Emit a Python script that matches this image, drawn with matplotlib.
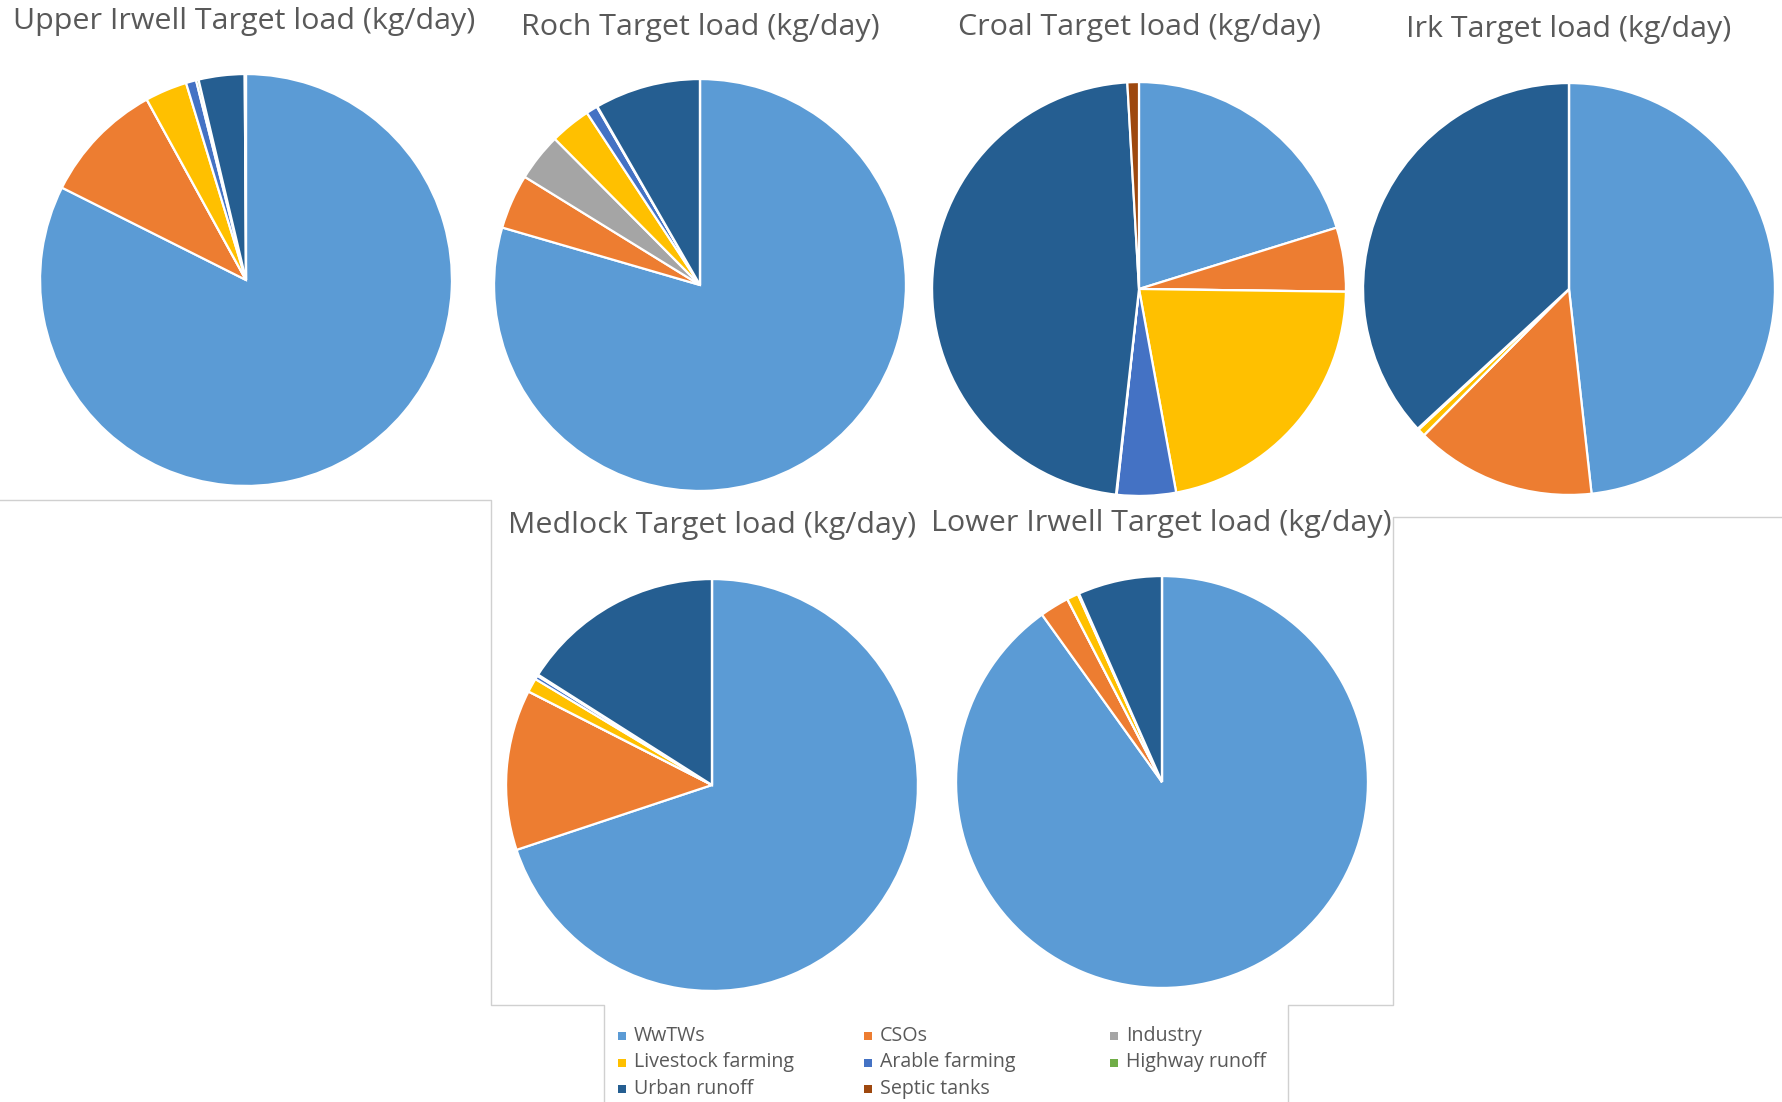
import matplotlib
matplotlib.use("Agg")
import matplotlib.pyplot as plt
from matplotlib.patches import Rectangle
from matplotlib.lines import Line2D

W, H = 1783, 1102

# Sources (same order in every pie, clockwise from 12 o'clock)
sources = ["WwTWs", "CSOs", "Industry", "Livestock farming", "Arable farming",
           "Highway runoff", "Urban runoff", "Septic tanks"]
colors = ["#5B9BD5", "#ED7D31", "#A5A5A5", "#FFC000", "#4472C4",
          "#70AD47", "#255E91", "#9E480E"]

# Share of target load (%)
upper_irwell = [82.4, 9.6, 0.0, 3.3, 0.8, 0.2, 3.6, 0.1]
roch = [79.5, 4.3, 3.75, 3.2, 0.9, 0.05, 8.3, 0.0]
croal = [20.2, 5.0, 0.0, 21.9, 4.6, 0.05, 47.3, 0.9]
irk = [48.3, 14.2, 0.0, 0.6, 0.05, 0.05, 36.9, 0.0]
medlock = [69.9, 12.6, 0.0, 1.1, 0.3, 0.1, 16.0, 0.0]
lower_irwell = [90.1, 2.3, 0.0, 0.9, 0.05, 0.05, 6.6, 0.0]

titles = ["Upper Irwell Target load (kg/day)", "Roch Target load (kg/day)",
          "Croal Target load (kg/day)", "Irk Target load (kg/day)",
          "Medlock Target load (kg/day)", "Lower Irwell Target load (kg/day)"]
series = [upper_irwell, roch, croal, irk, medlock, lower_irwell]

# layout in pixels: pie centre, radius, title position
pies = [(246, 280, 208), (700, 285, 208), (1139, 289, 209),
        (1569, 289, 208), (712, 785, 208), (1162, 782, 208)]
title_pos = [(244, 22), (700, 27), (1139, 27), (1569, 29), (712, 526), (1161, 524)]

fig = plt.figure(figsize=(W / 100, H / 100), dpi=100)
fig.patch.set_facecolor("white")

# light grey frame lines of the pasted chart boxes
frame = [
    [(0, 500), (491, 500), (491, 1005), (604, 1005), (604, 1102)],
    [(1783, 517), (1393, 517), (1393, 1005), (1288, 1005), (1288, 1102)],
]
for pts in frame:
    xs = [p[0] / W for p in pts]
    ys = [1 - p[1] / H for p in pts]
    fig.add_artist(Line2D(xs, ys, color="#d0d0d0", lw=1.0, transform=fig.transFigure))

for vals, title, (cx, cy, r), (tx, ty) in zip(series, titles, pies, title_pos):
    ax = fig.add_axes([(cx - r) / W, 1 - (cy + r) / H, 2 * r / W, 2 * r / H])
    ax.pie(vals, colors=colors, startangle=90, counterclock=False, radius=1,
           wedgeprops=dict(edgecolor="white", linewidth=1.6))
    ax.set_xlim(-1.01, 1.01)
    ax.set_ylim(-1.01, 1.01)
    ax.axis("off")
    fig.text(tx / W, 1 - ty / H, title, ha="center", va="center",
             fontsize=21.9, color="#595959", family="Open Sans")

# legend, 3 columns laid out row by row
for i, (lab, col) in enumerate(zip(sources, colors)):
    row, c = divmod(i, 3)
    x = 622 + c * 246
    y = 1036 + row * 26.5
    s = 8
    fig.add_artist(Rectangle(((x - s / 2) / W, 1 - (y + s / 2) / H), s / W, s / H,
                             facecolor=col, edgecolor="none", transform=fig.transFigure))
    fig.text((x + 12) / W, 1 - y / H, lab, ha="left", va="center",
             fontsize=14.1, color="#595959", family="Open Sans")

fig.savefig("out.png", dpi=100, facecolor="white")
